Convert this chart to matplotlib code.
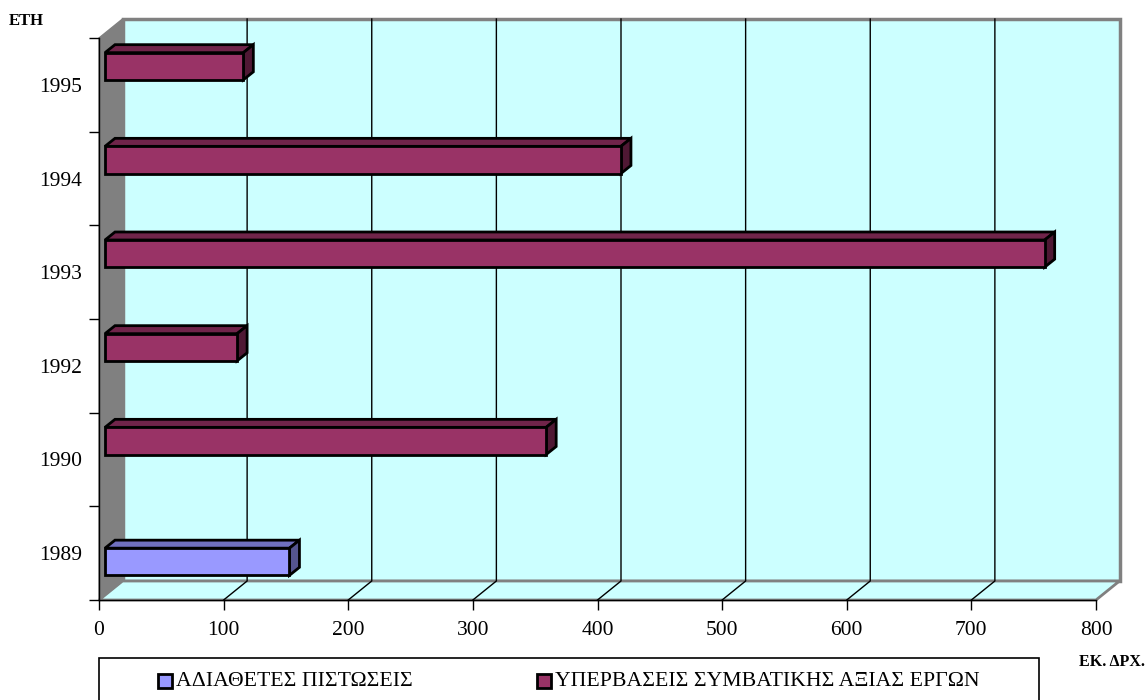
import matplotlib.pyplot as plt
import numpy as np
from matplotlib.patches import Polygon, Rectangle
from matplotlib.transforms import IdentityTransform

plt.rcParams['font.family'] = ['Liberation Serif', 'DejaVu Serif']

years = ['1989', '1990', '1992', '1993', '1994', '1995']
unused_credit = [148, 0, 0, 0, 0, 0]
overruns = [0, 354, 106, 754, 414, 111]
series_names = ['ΑΔΙΑΘΕΤΕΣ ΠΙΣΤΩΣΕΙΣ', 'ΥΠΕΡΒΑΣΕΙΣ ΣΥΜΒΑΤΙΚΗΣ ΑΞΙΑΣ ΕΡΓΩΝ']
x_ticks = [0, 100, 200, 300, 400, 500, 600, 700, 800]

wall = '#CCFFFF'
grey = '#808080'
front_cols = ['#9999FF', '#993366']
top_cols = ['#7070C0', '#70244A']
side_cols = ['#55558F', '#4F1834']

W, H = 1146, 700
fig = plt.figure(figsize=(W / 100, H / 100), dpi=100)
ax = fig.add_axes([99 / W, 100 / H, 997 / W, 562 / H])
ax.set_xlim(0, 800)
ax.set_ylim(-0.5, len(years) - 0.5)
ax.patch.set_visible(False)

DEPTH = np.array([23.5, 19.0])      # back wall offset in pixels
BAR_OFF = np.array([6.0, 5.0])      # front face of the bars
BAR_DEPTH = np.array([10.0, 8.0])   # thickness of the bars
ident = IdentityTransform()


def px(x, y, off=(0, 0)):
    return ax.transData.transform((x, y)) + np.asarray(off)


def poly(pts, **kw):
    p = Polygon(pts, closed=True, transform=ident, clip_on=False, **kw)
    ax.add_patch(p)
    return p


ymin, ymax = -0.5, len(years) - 0.5

# back wall
poly([px(0, ymin, DEPTH), px(800, ymin, DEPTH), px(800, ymax, DEPTH), px(0, ymax, DEPTH)],
     facecolor=wall, edgecolor=grey, lw=2.5, zorder=0)
# floor
poly([px(0, ymin), px(800, ymin), px(800, ymin, DEPTH), px(0, ymin, DEPTH)],
     facecolor=wall, edgecolor=grey, lw=2, zorder=0.5)
# side wall
poly([px(0, ymin), px(0, ymax), px(0, ymax, DEPTH), px(0, ymin, DEPTH)],
     facecolor=grey, edgecolor=grey, lw=1, zorder=0.6)

# gridlines on the wall and the floor
for v in x_ticks[1:-1]:
    a, b, c = px(v, ymin), px(v, ymin, DEPTH), px(v, ymax, DEPTH)
    ax.plot([a[0], b[0], c[0]], [a[1], b[1], c[1]], color='black', lw=1,
            transform=ident, clip_on=False, zorder=1)

# 3d bars, first series below, second above the category centre
bar_h = 0.29
shift = [-0.145, 0.145]
for k, vals in enumerate([unused_credit, overruns]):
    for i, v in enumerate(vals):
        if v <= 0:
            continue
        y0 = i + shift[k] - bar_h / 2
        y1 = i + shift[k] + bar_h / 2
        fl, fr = px(0, y0, BAR_OFF), px(v, y0, BAR_OFF)
        tl, tr = px(0, y1, BAR_OFF), px(v, y1, BAR_OFF)
        poly([tl, tr, tr + BAR_DEPTH, tl + BAR_DEPTH], facecolor=top_cols[k],
             edgecolor='black', lw=2, joinstyle='miter', zorder=3)
        poly([fr, tr, tr + BAR_DEPTH, fr + BAR_DEPTH], facecolor=side_cols[k],
             edgecolor='black', lw=2, joinstyle='miter', zorder=3)
        poly([fl, fr, tr, tl], facecolor=front_cols[k],
             edgecolor='black', lw=2, joinstyle='miter', zorder=4)

# axes
for s in ['top', 'right']:
    ax.spines[s].set_visible(False)
for s in ['left', 'bottom']:
    ax.spines[s].set_color('black')
    ax.spines[s].set_linewidth(1)
    ax.spines[s].set_zorder(5)
ax.set_xticks(x_ticks)
ax.set_xticklabels([str(t) for t in x_ticks])
ax.set_yticks(range(len(years)))
ax.set_yticklabels(years)
ax.set_yticks(np.arange(-0.5, len(years), 1), minor=True)
ax.tick_params(axis='y', which='major', length=0, pad=12, labelsize=15.5)
ax.tick_params(axis='y', which='minor', length=7, width=1, direction='out')
ax.tick_params(axis='x', length=7, width=1, direction='out', pad=8, labelsize=15.5)

fig.text(9 / W, 1 - 21 / H, 'ΕΤΗ', fontsize=12, fontweight='bold', va='center', ha='left')
fig.text(1079 / W, 1 - 662 / H, 'ΕΚ. ΔΡΧ.', fontsize=11.5, fontweight='bold', va='center', ha='left')

# legend box running off the bottom edge
fig.add_artist(Rectangle((99, -20), 940, 62, transform=ident, facecolor='white',
                         edgecolor='black', lw=1.2))
for k, (x0, tx) in enumerate([(158, 176), (537, 555)]):
    fig.add_artist(Rectangle((x0, 12), 14, 14, transform=ident, facecolor=front_cols[k],
                             edgecolor='black', lw=2))
    fig.text(tx / W, 19 / H, series_names[k], fontsize=15.7, va='center', ha='left')

fig.savefig('out.png', dpi=100)
